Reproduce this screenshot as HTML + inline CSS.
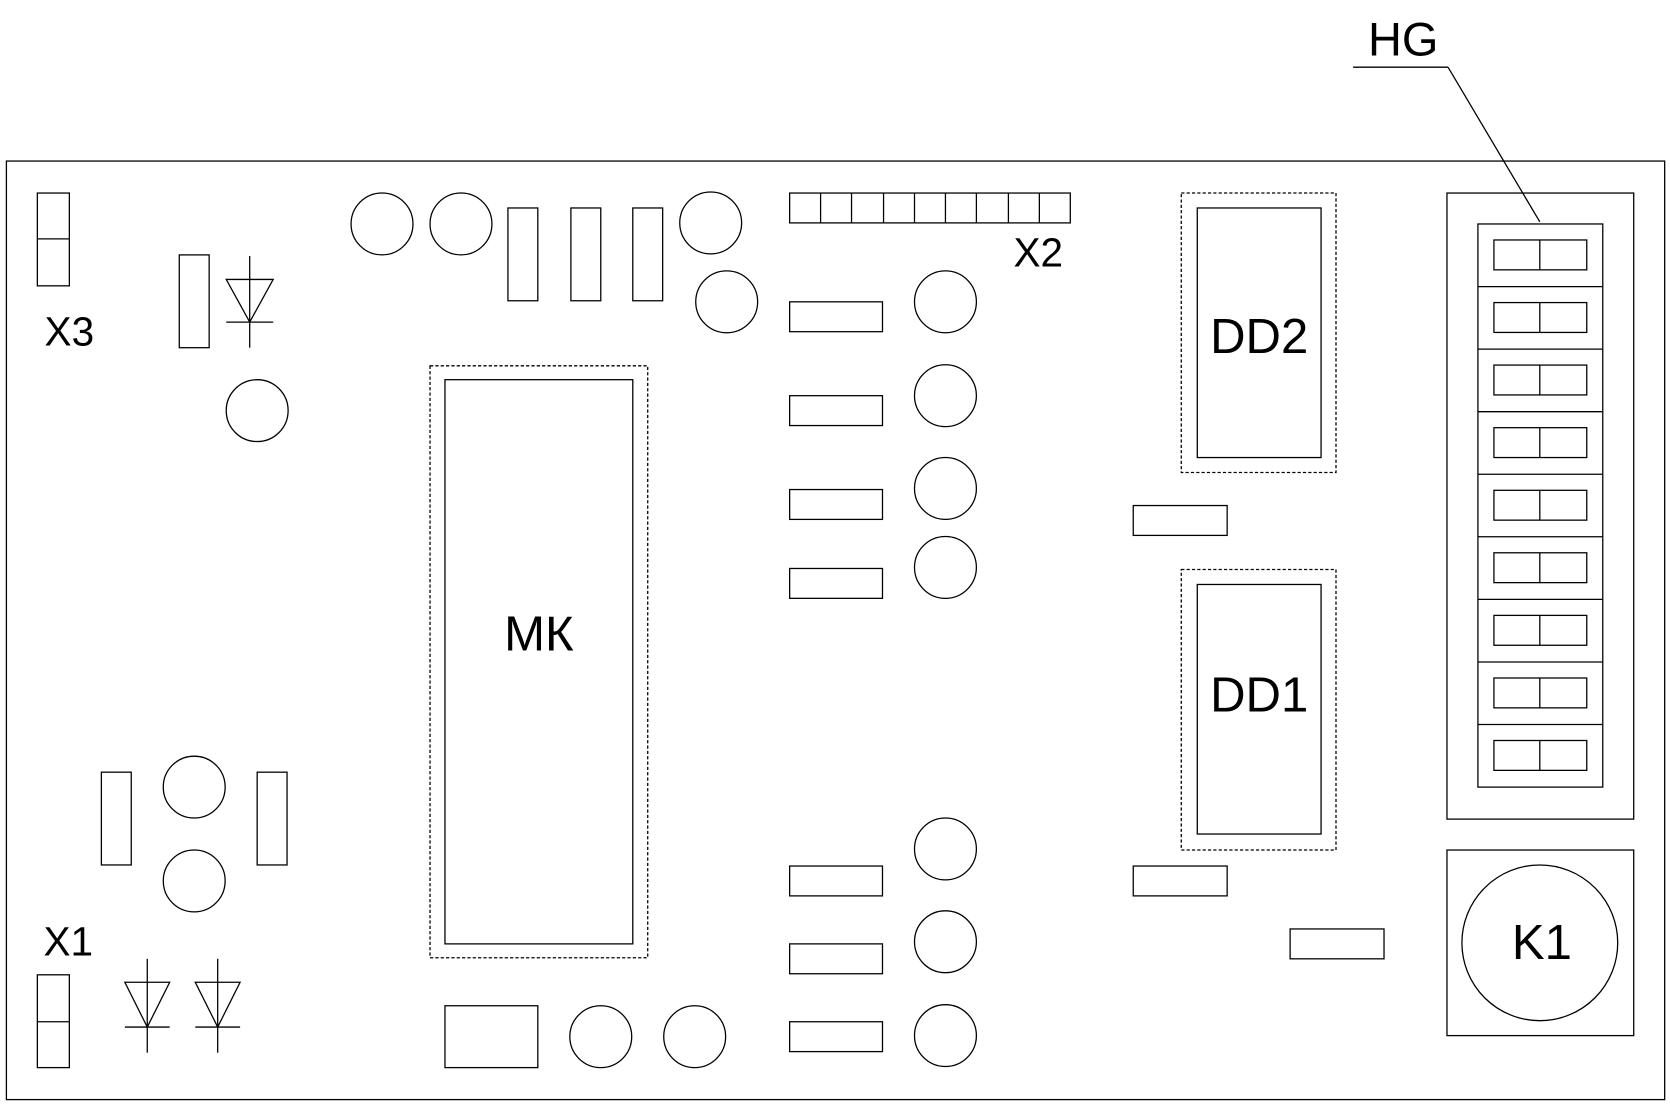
<!DOCTYPE html>
<html><head><style>html,body{margin:0;padding:0;background:#fff}svg{display:block}</style></head>
<body>
<svg width="1670" height="1106" viewBox="0 0 1565 1037" preserveAspectRatio="none" xmlns="http://www.w3.org/2000/svg">
<g fill="none" stroke="#000" stroke-width="1.2">
<rect x="6" y="151" width="1554" height="880"/>
<line x1="1268" y1="63" x2="1357" y2="63"/><line x1="1357" y1="63" x2="1443" y2="208"/>
<rect x="35" y="181" width="30" height="87"/><line x1="35" y1="224" x2="65" y2="224"/>
<rect x="168" y="239" width="28" height="87"/>
<line x1="234" y1="240" x2="234" y2="326"/><polygon points="212,262 256,262 234,302"/><line x1="212" y1="302" x2="256" y2="302"/>
<circle cx="241" cy="385" r="29"/>
<circle cx="358" cy="210" r="29"/><circle cx="432" cy="210" r="29"/>
<rect x="476" y="195" width="28" height="87"/><rect x="535" y="195" width="28" height="87"/><rect x="593" y="195" width="28" height="87"/>
<circle cx="666" cy="209" r="29"/><circle cx="681" cy="283" r="29"/>
<rect x="740" y="181" width="263" height="28"/>
<line x1="769" y1="181" x2="769" y2="209"/><line x1="798" y1="181" x2="798" y2="209"/><line x1="828" y1="181" x2="828" y2="209"/><line x1="857" y1="181" x2="857" y2="209"/><line x1="886" y1="181" x2="886" y2="209"/><line x1="915" y1="181" x2="915" y2="209"/><line x1="945" y1="181" x2="945" y2="209"/><line x1="974" y1="181" x2="974" y2="209"/>
<rect x="740" y="283" width="87" height="28"/><rect x="740" y="371" width="87" height="28"/><rect x="740" y="459" width="87" height="28"/><rect x="740" y="533" width="87" height="28"/><rect x="740" y="812" width="87" height="28"/><rect x="740" y="885" width="87" height="28"/><rect x="740" y="958" width="87" height="28"/>
<circle cx="886" cy="283" r="29"/><circle cx="886" cy="371" r="29"/><circle cx="886" cy="458" r="29"/><circle cx="886" cy="532" r="29"/><circle cx="886" cy="796" r="29"/><circle cx="886" cy="883" r="29"/><circle cx="886" cy="971" r="29"/>
<rect x="403" y="343" width="204" height="555" stroke-dasharray="3,2"/><rect x="417" y="356" width="176" height="529"/>
<rect x="1107" y="181" width="145" height="262" stroke-dasharray="3,2"/><rect x="1122" y="195" width="116" height="234"/>
<rect x="1107" y="534" width="145" height="263" stroke-dasharray="3,2"/><rect x="1122" y="548" width="116" height="234"/>
<rect x="1062" y="474" width="88" height="28"/><rect x="1062" y="812" width="88" height="28"/><rect x="1209" y="871" width="88" height="28"/>
<rect x="1356" y="181" width="175" height="587"/><rect x="1385" y="210" width="117" height="528"/>
<g id="r"><rect x="1400" y="225" width="87" height="28"/><line x1="1443" y1="225" x2="1443" y2="253"/></g>
<use href="#r" y="58.7"/><use href="#r" y="117.3"/><use href="#r" y="176"/><use href="#r" y="234.7"/><use href="#r" y="293.3"/><use href="#r" y="352"/><use href="#r" y="410.7"/><use href="#r" y="469.3"/>
<line x1="1385" y1="268.7" x2="1502" y2="268.7"/><line x1="1385" y1="327.3" x2="1502" y2="327.3"/><line x1="1385" y1="386" x2="1502" y2="386"/><line x1="1385" y1="444.7" x2="1502" y2="444.7"/><line x1="1385" y1="503.3" x2="1502" y2="503.3"/><line x1="1385" y1="562" x2="1502" y2="562"/><line x1="1385" y1="620.7" x2="1502" y2="620.7"/><line x1="1385" y1="679.3" x2="1502" y2="679.3"/>
<rect x="1356" y="797" width="175" height="174"/><circle cx="1443" cy="884" r="73"/>
<rect x="95" y="724" width="28" height="87"/><rect x="241" y="724" width="28" height="87"/>
<circle cx="182" cy="738" r="29"/><circle cx="182" cy="826" r="29"/>
<rect x="35" y="914" width="30" height="87"/><line x1="35" y1="958" x2="65" y2="958"/>
<line x1="138" y1="899" x2="138" y2="987"/><polygon points="117,921 159,921 138,963"/><line x1="117" y1="963" x2="159" y2="963"/>
<line x1="204" y1="899" x2="204" y2="987"/><polygon points="183,921 225,921 204,963"/><line x1="183" y1="963" x2="225" y2="963"/>
<rect x="417" y="943" width="87" height="58"/><circle cx="563" cy="972" r="29"/><circle cx="651" cy="972" r="29"/>
</g>
<g font-family="'Liberation Sans','DejaVu Sans',sans-serif" fill="#000" text-anchor="middle">
<text x="1315" y="52" font-size="44">HG</text>
<text x="65" y="324" font-size="38">X3</text>
<text x="64" y="896" font-size="38">X1</text>
<text x="973" y="250" font-size="38">X2</text>
<text x="505" y="610" font-size="46">МК</text>
<text x="1180" y="331" font-size="46">DD2</text>
<text x="1180" y="667" font-size="46">DD1</text>
<text x="1445" y="899" font-size="46">K1</text>
</g>
</svg>
</body></html>
